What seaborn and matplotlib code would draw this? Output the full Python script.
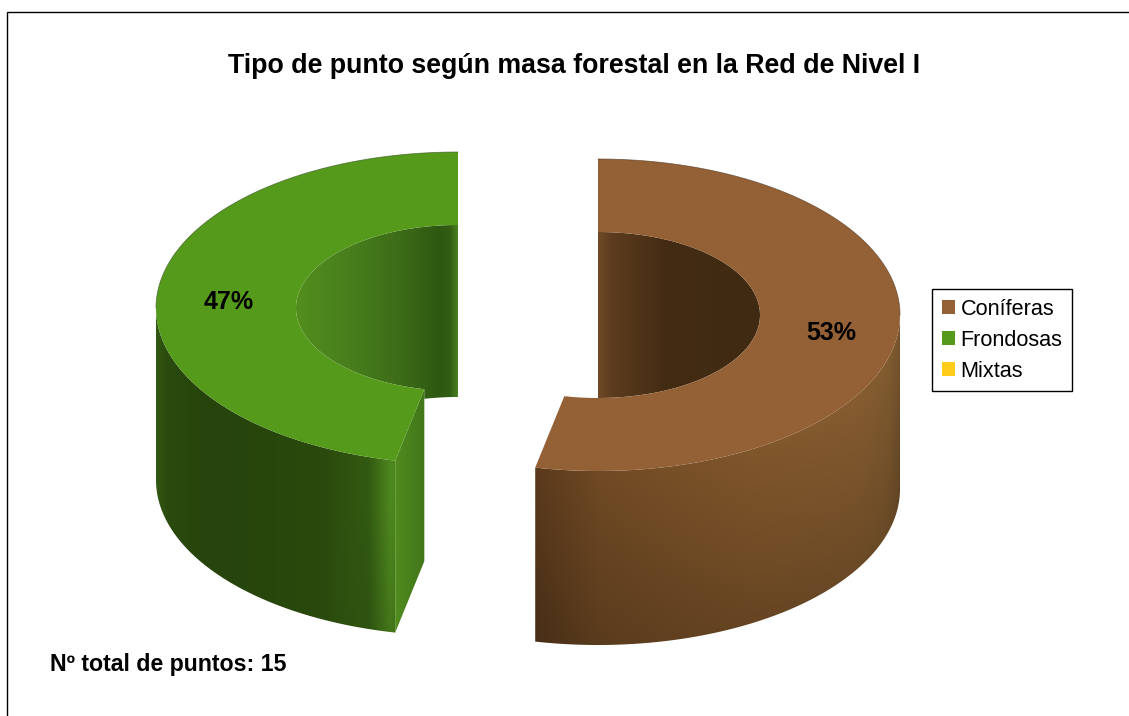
import numpy as np
import matplotlib
matplotlib.use("Agg")
import matplotlib.pyplot as plt
from matplotlib.patches import Patch, Polygon, Rectangle
import seaborn as sns

# Plot counts per forest type
categories = ["Coníferas", "Frondosas", "Mixtas"]
counts = [8, 7, 0]
title_text = "Tipo de punto según masa forestal en la Red de Nivel I"
note_text = "Nº total de puntos: 15"

TOP_COLORS = ["#946035", "#559A1B", "#FFCC1A"]

# Projected ring geometry (figure pixels)
RX_OUT, RY_OUT = 302, 156
RX_IN, RY_IN = 162, 83
DEPTH = 174
CENTERS = {"Coníferas": (598, 315), "Frondosas": (458, 308)}
LABEL_POS = {"Coníferas": (831, 333), "Frondosas": (229, 302)}


def arc(center, rx, ry, a0, a1, drop=0, n=240):
    """Ellipse arc; angles run clockwise in degrees from twelve o'clock."""
    t = np.radians(np.linspace(a0, a1, n))
    return np.column_stack([center[0] + rx * np.sin(t), center[1] - ry * np.cos(t) + drop])


def shaded(ax, poly, xstops, ystops, shade=None):
    """Fill a polygon with a horizontal colour ramp, optionally darkened by `shade(X, Y)`."""
    x0, y0 = poly.min(axis=0)
    x1, y1 = poly.max(axis=0)
    xs = np.linspace(x0, x1, 600)
    ys = np.linspace(y0, y1, 400)
    X, Y = np.meshgrid(xs, ys)
    stops = np.array(ystops, dtype=float) / 255
    rgb = np.stack([np.interp(X, xstops, stops[:, i]) for i in range(3)], axis=-1)
    if shade is not None:
        rgb = rgb * shade(X, Y)[..., None]
    im = ax.imshow(np.clip(rgb, 0, 1), extent=(x0, x1, y1, y0), aspect="auto",
                   interpolation="bilinear", zorder=2)
    patch = Polygon(poly, closed=True, transform=ax.transData, fc="none", ec="none")
    ax.add_patch(patch)
    im.set_clip_path(patch)


sns.set_theme(style="white")
plt.rcParams["font.family"] = ["Liberation Sans", "DejaVu Sans"]

fig = plt.figure(figsize=(11.29, 7.16), dpi=100, facecolor="white")
ax = fig.add_axes([0, 0, 1, 1])
ax.axis("off")

total = sum(counts)
con_sweep = counts[0] / total * 360
fro_sweep = counts[1] / total * 360

# Coníferas: clockwise from twelve o'clock
c = CENTERS["Coníferas"]
wall_top = arc(c, RX_OUT, RY_OUT, 90, con_sweep)
wall_bot = arc(c, RX_OUT, RY_OUT, con_sweep, 90, drop=DEPTH)


def brown_shade(X, Y):
    dx = np.clip((X - c[0]) / RX_OUT, -1, 1)
    ytop = c[1] + RY_OUT * np.sqrt(1 - dx ** 2)
    return 1 - 0.2 * np.clip((Y - ytop) / DEPTH, 0, 1)


shaded(ax, np.vstack([wall_top, wall_bot]),
       [535, 600, 750, 860, 888, 901],
       [(90, 58, 28), (112, 74, 36), (128, 86, 43), (134, 92, 48), (130, 92, 48), (118, 84, 46)],
       brown_shade)
hole = arc(c, RX_IN, RY_IN, 0, 180)
shaded(ax, hole, [598, 612, 665, 761],
       [(112, 74, 40), (92, 60, 30), (68, 44, 20), (64, 42, 18)])
ring = np.vstack([arc(c, RX_OUT, RY_OUT, 0, con_sweep), arc(c, RX_IN, RY_IN, con_sweep, 0)])
ax.add_patch(Polygon(ring, closed=True, fc=TOP_COLORS[0], ec="none", zorder=3))
ax.plot(*arc(c, RX_OUT, RY_OUT, 0, 90).T, color="#5a4028", lw=0.6, alpha=0.7, zorder=4)

# Frondosas: counter-clockwise from twelve o'clock
c2 = CENTERS["Frondosas"]
drop2 = DEPTH - 2
wall_top2 = arc(c2, RX_OUT, RY_OUT, -90, -fro_sweep)
wall_bot2 = arc(c2, RX_OUT, RY_OUT, -fro_sweep, -90, drop=drop2)


def green_shade(X, Y):
    return 1 - 0.12 * np.clip((X - 330) / 60, 0, 1) * np.clip((Y - 500) / 130, 0, 1)


shaded(ax, np.vstack([wall_top2, wall_bot2]),
       [156, 168, 210, 320, 350, 368, 382, 390, 396],
       [(50, 88, 18), (42, 74, 14), (38, 68, 12), (41, 73, 13), (48, 84, 16), (50, 90, 18),
        (68, 118, 26), (78, 136, 30), (74, 130, 28)],
       green_shade)
inner_end = arc(c2, RX_IN, RY_IN, -fro_sweep, -fro_sweep, n=1)[0]
outer_end = arc(c2, RX_OUT, RY_OUT, -fro_sweep, -fro_sweep, n=1)[0]
face = np.array([inner_end, outer_end, outer_end + [0, drop2], inner_end + [0, drop2]])
shaded(ax, face, [395, 410, 425], [(82, 140, 30), (72, 128, 28), (66, 118, 26)])

# Inner wall of the green slice: its lower rim is the far side of the dropped hole ellipse
rim_x = np.linspace(inner_end[0], c2[0], 30)
rim_y = c2[1] + drop2 - RY_IN * np.sqrt(1 - ((rim_x - c2[0]) / RX_IN) ** 2)
hole2 = np.vstack([arc(c2, RX_IN, RY_IN, 0, -fro_sweep), np.column_stack([rim_x, rim_y])])
shaded(ax, hole2, [296, 350, 400, 440, 450, 458],
       [(82, 142, 30), (72, 126, 28), (60, 108, 24), (46, 88, 18), (50, 94, 20), (74, 128, 30)])
ring2 = np.vstack([arc(c2, RX_OUT, RY_OUT, 0, -fro_sweep), arc(c2, RX_IN, RY_IN, -fro_sweep, 0)])
ax.add_patch(Polygon(ring2, closed=True, fc=TOP_COLORS[1], ec="none", zorder=3))
ax.plot(*arc(c2, RX_OUT, RY_OUT, 0, -90).T, color="#3c5a28", lw=0.6, alpha=0.7, zorder=4)

# Percentage labels
for name, value in zip(categories, counts):
    if value:
        x, y = LABEL_POS[name]
        ax.text(x, y, f"{round(value / total * 100)}%", ha="center", va="center",
                fontsize=18, fontweight="bold", color="black", zorder=5)

ax.text(574, 66, title_text, ha="center", va="center", fontsize=19.3, fontweight="bold", color="black")
ax.text(50, 665, note_text, ha="left", va="center", fontsize=16.7, fontweight="bold", color="black")

# Chart frame, cut by the figure on its right and bottom
ax.add_patch(Rectangle((6.5, 11.5), 2000, 2000, fill=False, ec="black", lw=1, zorder=6))

handles = [Patch(fc=col, ec="none") for col in TOP_COLORS]
leg = ax.legend(handles, categories, loc="upper left", bbox_to_anchor=(932 / 1129, 1 - 289 / 716),
                bbox_transform=fig.transFigure, borderaxespad=0, fontsize=15.6,
                labelcolor="black", frameon=True, fancybox=False, framealpha=1, edgecolor="black",
                handlelength=0.6, handleheight=0.6, handletextpad=0.28,
                labelspacing=0.47, borderpad=0.44)
leg.get_frame().set_linewidth(1)
leg.set_zorder(7)

ax.set_xlim(0, 1129)
ax.set_ylim(716, 0)
fig.savefig("out.png", dpi=100, facecolor="white")
